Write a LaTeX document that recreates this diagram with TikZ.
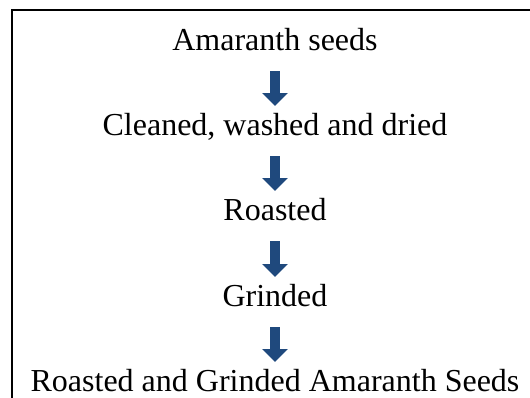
\documentclass[tikz,border=0pt]{standalone}
\usepackage{fontspec}
\setmainfont{Liberation Serif}
\usetikzlibrary{arrows.meta}
\definecolor{arrowblue}{RGB}{31,73,125}
\tikzset{
  steptext/.style={anchor=base, inner sep=0pt, font=\fontsize{32}{38}\selectfont},
  flow/.style={arrowblue, line width=10pt, -{Triangle[width=25pt,length=13pt]}}
}
\begin{document}
\begin{tikzpicture}[x=1pt, y=-1pt]
   \useasboundingbox (0,0) rectangle (530,397);
   \clip (0,0) rectangle (530,397);
   % frame, runs off the right and bottom edges
   \draw[line width=2pt] (11.5,10) rectangle (560,420);

   \node[steptext] (seeds)   at (275,50)  {Amaranth seeds};
   \node[steptext] (cleaned) at (275,135) {Cleaned, washed and dried};
   \node[steptext] (roasted) at (275,220) {Roasted};
   \node[steptext] (grinded) at (275,306) {Grinded};
   \node[steptext] (final)   at (275,391) {Roasted and Grinded Amaranth Seeds};

   \foreach \a/\b in {seeds/cleaned, cleaned/roasted, roasted/grinded, grinded/final}
     \draw[flow] ([yshift=-21pt]\a.base) -- ([yshift=29pt]\b.base);
\end{tikzpicture}
\end{document}
